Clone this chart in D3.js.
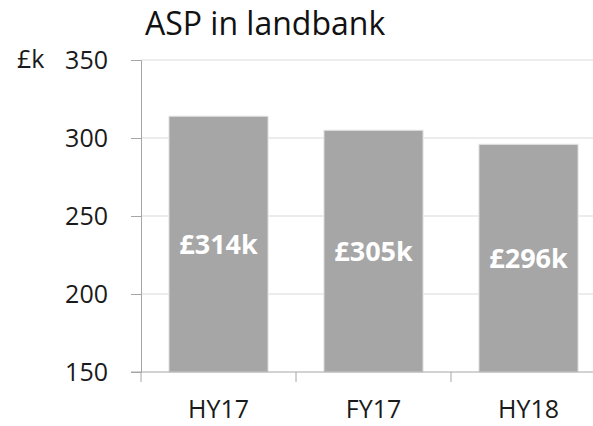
<!DOCTYPE html>
<html>
<head>
<meta charset="utf-8">
<script src="https://cdn.jsdelivr.net/npm/d3@7"></script>
<style>
  html, body { margin: 0; padding: 0; background: #fff; }
  svg { display: block; font-family: "Open Sans", "Noto Sans", sans-serif; }
  .tick text { fill: #1a1a1a; }
</style>
</head>
<body>
<svg id="chart" width="593" height="426"></svg>
<script>
// ASP in landbank, £k
const categories = ['HY17', 'FY17', 'HY18'];
const values     = [314, 305, 296];
const labels     = ['£314k', '£305k', '£296k'];
const yTicks     = [150, 200, 250, 300, 350];

const svg = d3.select('#chart');

// plot runs off the right edge, like the source slide
const x = d3.scaleBand().domain(categories).range([141, 606]).paddingInner(0.36).paddingOuter(0.18);
const y = d3.scaleLinear().domain([150, 350]).range([372, 60]);

// gridlines
svg.append('g')
  .selectAll('line')
  .data(yTicks.slice(1))
  .join('line')
  .attr('x1', 141).attr('x2', 593)
  .attr('y1', d => y(d)).attr('y2', d => y(d))
  .attr('stroke', '#d9d9d9').attr('stroke-width', 1);

// bars
svg.append('g')
  .selectAll('rect')
  .data(values)
  .join('rect')
  .attr('x', (d, i) => x(categories[i]))
  .attr('y', d => y(d))
  .attr('width', x.bandwidth())
  .attr('height', d => y(150) - y(d))
  .attr('fill', '#a6a6a6')
  .attr('stroke', '#e8e8e8')
  .attr('stroke-width', 1);

// value labels, centred in each bar
svg.append('g')
  .selectAll('text')
  .data(values)
  .join('text')
  .attr('x', (d, i) => x(categories[i]) + x.bandwidth() / 2)
  .attr('y', d => (y(d) + y(150)) / 2)
  .attr('dy', '0.35em')
  .attr('text-anchor', 'middle')
  .attr('fill', '#fff')
  .attr('font-weight', 700)
  .attr('font-size', 27)
  .text((d, i) => labels[i]);

// y axis
const yAxis = svg.append('g')
  .attr('transform', 'translate(141,0)')
  .call(d3.axisLeft(y).tickValues(yTicks).tickSize(10).tickPadding(23))
  .attr('font-family', null)
  .attr('font-size', null);
yAxis.select('.domain').attr('stroke', '#a6a6a6');
yAxis.selectAll('.tick line').attr('stroke', '#a6a6a6');
yAxis.selectAll('.tick text').attr('font-size', 25);

// x axis with ticks at band boundaries
const xAxis = svg.append('g').attr('transform', `translate(0,${y(150)})`);
xAxis.append('line')
  .attr('x1', 131).attr('x2', 593)
  .attr('stroke', '#a6a6a6');
const step = x.step();
xAxis.selectAll('line.bt')
  .data(categories)
  .join('line')
  .attr('class', 'bt')
  .attr('x1', (d, i) => 141 + i * step).attr('x2', (d, i) => 141 + i * step)
  .attr('y1', 0).attr('y2', 10)
  .attr('stroke', '#a6a6a6');
xAxis.selectAll('text')
  .data(categories)
  .join('text')
  .attr('x', d => x(d) + x.bandwidth() / 2)
  .attr('y', 46)
  .attr('text-anchor', 'middle')
  .attr('fill', '#1a1a1a')
  .attr('font-size', 25)
  .text(d => d);

// unit label and title
svg.append('text')
  .attr('x', 17).attr('y', y(350)).attr('dy', '0.32em')
  .attr('font-size', 25).attr('fill', '#1a1a1a')
  .text('£k');

svg.append('text')
  .attr('x', 145).attr('y', 35)
  .attr('font-size', 32).attr('fill', '#111')
  .text('ASP in landbank');
</script>
</body>
</html>
